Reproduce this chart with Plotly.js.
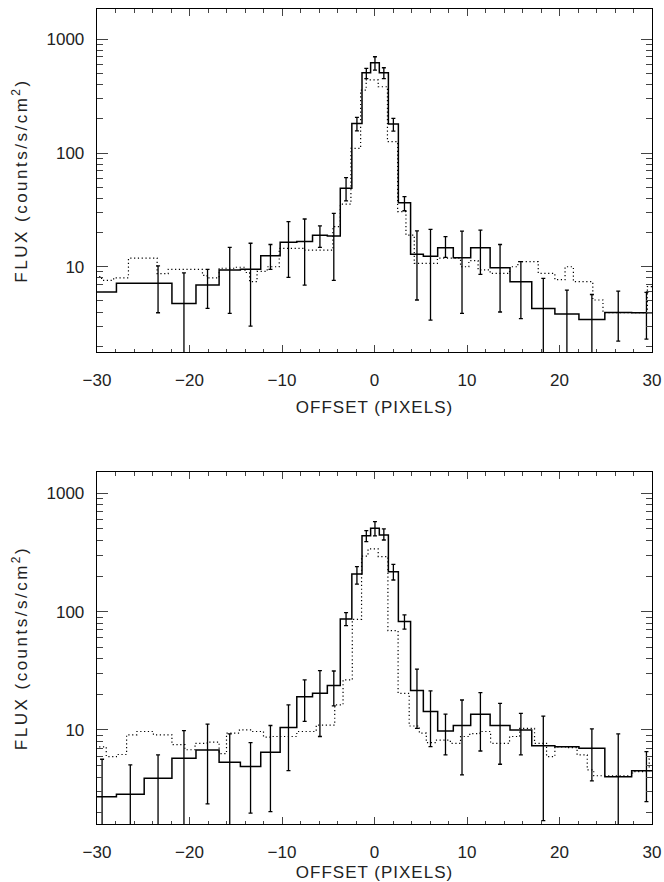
<!DOCTYPE html>
<html>
<head>
<meta charset="utf-8">
<script src="https://cdn.plot.ly/plotly-3.0.1.min.js"></script>
<style>
html,body{margin:0;padding:0;background:#fff;}
#plot{width:664px;height:882px;}
.g-ytitle text, .g-y2title text { letter-spacing: 2.5px; }
.g-xtitle text, .g-x2title text { letter-spacing: 1px; }
</style>
</head>
<body>
<div id="plot"></div>
<script>
// Bin edges (pixels offset) shared by both panels
const binEdges = [-31, -27.9, -24.9, -21.9, -19.3, -16.8, -14.5, -12.3, -10.2, -8.4, -6.7, -5.1, -3.7, -2.45, -1.35, -0.42,
  0.52, 1.5, 2.58, 3.9, 5.28, 6.83, 8.52, 10.4, 12.5, 14.65, 17.0, 19.5, 22.1, 24.9, 27.8, 31];

// Top panel: measured flux (solid histogram) and error bar bounds
const fluxTop = [6.0, 7.15, 7.15, 4.76, 6.9, 9.36, 9.5, 12.5, 16.4, 16.7, 18.9, 18.6, 49, 182, 508, 622, 508, 180, 36.5,
  12.9, 12.4, 14.7, 12.0, 14.7, 9.8, 7.38, 4.3, 3.84, 3.44, 3.97, 3.95];
const errHiTop = [null, null, 10.2, 8.85, 9.5, 14.8, 16.1, 15.7, 24.9, 26.3, 22.9, 29.5, 60.7, 206, 556, 703, 563, 202, 41.3,
  20.7, 21.3, 18.4, 20.6, 21, 15.7, 11.1, 7.9, 6.24, 5.7, 6.1, 5.96];
const errLoTop = [null, null, 3.94, 1.0, 4.3, 3.89, 3.0, 9.5, 8.07, 6.9, 14.8, 7.6, 38, 157, 451, 537, 451, 156, 31.1,
  5.1, 3.4, 12.1, 3.89, 8.58, 4.0, 3.5, 1.0, 1.0, 1.0, 2.22, 2.31];
// Top panel: model (dotted step curve)
const modelTopX = [-31, -29.5, -28.2, -26.6, -23.5, -22.3, -18.6, -18.1, -16.8, -15.0, -14.0, -13.5, -12.7, -11.6, -10.3, -7.6,
  -4.5, -3.7, -2.55, -1.5, -0.9, 0.4, 1.4, 2.5, 3.4, 4.3, 6.8, 9.3, 10.2, 11.2, 12.5, 14.6, 15.5, 17.7, 19.5, 20.6, 21.5,
  23.6, 24.7, 29.5, 31];
const modelTopY = [8.2, 7.6, 8.0, 11.9, 8.7, 9.5, 8.4, 8.0, 9.7, 9.9, 8.9, 7.4, 9.1, 10.0, 14.5, 14.0,
  22.5, 35.6, 110, 358, 440, 383, 126, 30.5, 19.0, 10.7, 11.9, 10.0, 11.3, 9.4, 8.75, 10.0, 11.1, 8.75, 7.7, 10.0, 7.4,
  5.1, 3.95, 6.7, 6.7];

// Bottom panel
const fluxBot = [2.73, 2.86, 3.91, 5.77, 6.77, 5.33, 4.9, 6.47, 10.5, 19.1, 20.4, 23.7, 86.7, 208, 437, 507, 445, 217, 82.4,
  21.5, 14.3, 9.8, 10.9, 13.6, 10.9, 10.0, 7.36, 7.2, 7.0, 4.03, 4.53];
const errHiBot = [5.65, 5.06, 6.15, 9.87, 11.2, 9.25, 7.82, 10.9, 16.3, 26.5, 31.7, 31.5, 98, 240, 484, 577, 500, 251, 93.7,
  32.6, 21.4, 13.6, 17.9, 20.7, 16.8, 13.8, 13.1, null, 10.2, 9.25, 6.56];
const errLoBot = [1.0, 1.0, 1.0, 1.0, 2.37, 1.0, 1.98, 2.04, 4.53, 11.8, 8.8, 16.0, 76, 171, 391, 437, 403, 185, 71,
  10.3, 7.23, 6.15, 4.17, 6.64, 5.13, 6.15, 1.71, null, 3.71, 1.0, 2.48];
const modelBotX = [-31, -29.0, -27.9, -26.8, -25.7, -23.9, -21.9, -20.5, -19.4, -18.1, -16.8, -16.0, -14.6, -13.4, -12.0, -11.2,
  -8.4, -6.3, -4.3, -3.4, -2.4, -1.4, -0.7, 0.4, 1.45, 2.55, 3.75, 4.85, 5.6, 6.7, 8.2, 9.3, 10.3, 11.4, 12.55, 14.6, 15.7,
  17.3, 18.6, 19.5, 20.8, 21.9, 23.0, 23.7, 27.9, 29.7, 31];
const modelBotY = [7.2, 5.95, 6.2, 9.1, 9.7, 9.1, 7.5, 6.8, 7.7, 7.9, 6.3, 9.4, 10.0, 9.7, 8.7, 8.8,
  9.7, 11.0, 16.3, 26.5, 86, 295, 339, 292, 69, 20.4, 10.8, 9.4, 7.8, 8.2, 7.7, 8.8, 9.3, 9.7, 7.7, 8.8, 10.3,
  7.7, 5.95, 7.2, 7.1, 6.15, 4.6, 4.1, 4.45, 5.7, 5.7];

const xTicks = [-30, -20, -10, 0, 10, 20, 30];
const yTicks = [10, 100, 1000];
const xTitle = 'OFFSET (PIXELS)';
const yTitle = 'FLUX (counts/s/cm<sup>2</sup>)';

function panelTraces(flux, hi, lo, mx, my, xa, ya) {
  const stepX = binEdges.slice();
  const stepY = flux.concat([flux[flux.length - 1]]);
  const ex = [], ey = [], ep = [], em = [];
  for (let i = 0; i < flux.length; i++) {
    if (hi[i] == null) continue;
    ex.push((binEdges[i] + binEdges[i + 1]) / 2);
    ey.push(flux[i]);
    ep.push(hi[i] - flux[i]);
    em.push(flux[i] - lo[i]);
  }
  return [
    {x: mx, y: my, xaxis: xa, yaxis: ya, mode: 'lines', line: {shape: 'hv', color: '#000', width: 1.2, dash: '1.2px,2.6px'}, hoverinfo: 'skip'},
    {x: stepX, y: stepY, xaxis: xa, yaxis: ya, mode: 'lines', line: {shape: 'hv', color: '#000', width: 1.5}, hoverinfo: 'skip'},
    {x: ex, y: ey, xaxis: xa, yaxis: ya, mode: 'markers', marker: {size: 1, color: 'rgba(0,0,0,0)'},
     error_y: {type: 'data', symmetric: false, array: ep, arrayminus: em, color: '#000', thickness: 1.3, width: 2}, hoverinfo: 'skip'}
  ];
}

const font = {family: 'Liberation Sans, Arial, sans-serif', size: 17, color: '#222'};

function xAxis(anchor) {
  return {
    anchor: anchor, range: [-30, 30], tickmode: 'array', tickvals: xTicks, ticks: 'inside', ticklen: 7, tickwidth: 1,
    minor: {ticks: 'inside', dtick: 2, tick0: 0, ticklen: 3.5, tickwidth: 1},
    mirror: 'ticks', showline: true, linecolor: '#000', linewidth: 1.3, showgrid: false, zeroline: false,
    tickfont: font, ticklabelstandoff: 12,
    title: {text: xTitle, font: font, standoff: 12}
  };
}
function yAxis(anchor, domain, range) {
  return {
    anchor: anchor, domain: domain, type: 'log', range: range, tickmode: 'array', tickvals: yTicks, ticktext: yTicks.map(String),
    ticks: 'inside', ticklen: 11, tickwidth: 1,
    minor: {ticks: 'inside', dtick: 'D1', ticklen: 6, tickwidth: 1},
    mirror: 'ticks', showline: true, linecolor: '#000', linewidth: 1.3, showgrid: false, zeroline: false,
    tickfont: font, ticklabelstandoff: 8,
    title: {text: yTitle, font: font, standoff: 14}
  };
}

const data = panelTraces(fluxTop, errHiTop, errLoTop, modelTopX, modelTopY, 'x', 'y')
  .concat(panelTraces(fluxBot, errHiBot, errLoBot, modelBotX, modelBotY, 'x2', 'y2'));

const layout = {
  width: 664, height: 882, showlegend: false,
  margin: {l: 97, r: 12, t: 9, b: 58},
  paper_bgcolor: '#fff', plot_bgcolor: '#fff',
  font: font,
  xaxis: xAxis('y'),
  yaxis: yAxis('x', [0.5791, 1], [0.25, 3.267]),
  xaxis2: xAxis('y2'),
  yaxis2: yAxis('x2', [0, 0.4319], [0.205, 3.18])
};

Plotly.newPlot('plot', data, layout, {staticPlot: true, displayModeBar: false});
</script>
</body>
</html>
